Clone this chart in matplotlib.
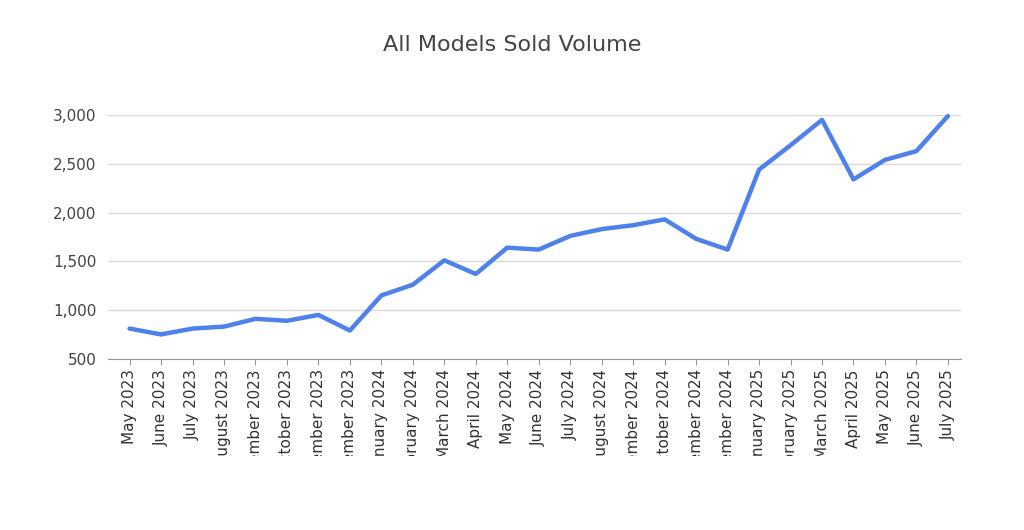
import matplotlib
matplotlib.use("Agg")
import matplotlib.pyplot as plt
from matplotlib.transforms import Bbox

months = ["May 2023","June 2023","July 2023","August 2023","September 2023","October 2023",
          "November 2023","December 2023","January 2024","February 2024","March 2024","April 2024",
          "May 2024","June 2024","July 2024","August 2024","September 2024","October 2024",
          "November 2024","December 2024","January 2025","February 2025","March 2025","April 2025",
          "May 2025","June 2025","July 2025"]
volume = [810,750,810,830,910,890,950,790,1150,1260,1510,1370,1640,1620,1760,1830,1870,1930,
          1730,1620,2440,2690,2950,2340,2540,2630,2990]
yticks = [500,1000,1500,2000,2500,3000]

fig = plt.figure(figsize=(10.24,5.3), dpi=100)
ax = fig.add_axes([0.105,0.323,0.833,0.46])
x = list(range(len(months)))
ax.plot(x, volume, color="#4f81eb", lw=3.2, solid_joinstyle="round", solid_capstyle="round", clip_on=False)
ax.set_xlim(-0.7, 26.4)
ax.set_ylim(500, 3000)
ax.set_yticks(yticks)
ax.set_yticklabels([f"{v:,}" for v in yticks], fontsize=11, color="#444444")
ax.set_xticks(x)
ax.set_xticklabels(months, rotation=90, fontsize=11, color="#333333")
ax.tick_params(axis="y", length=0, pad=8)
ax.tick_params(axis="x", length=4, color="#999999")
ax.grid(axis="y", color="#d9d9d9", lw=1)
ax.set_axisbelow(True)
for s in ["top","right","left"]:
    ax.spines[s].set_visible(False)
ax.spines["bottom"].set_color("#999999")
clip = Bbox.from_extents(0, 530 - 456, 1024, 530)
for lab in ax.get_xticklabels():
    lab.set_clip_box(clip)
    lab.set_clip_on(True)
fig.text(0.5, 0.915, "All Models Sold Volume", ha="center", va="center", fontsize=16, color="#444444")
fig.savefig("out.png", dpi=100)
